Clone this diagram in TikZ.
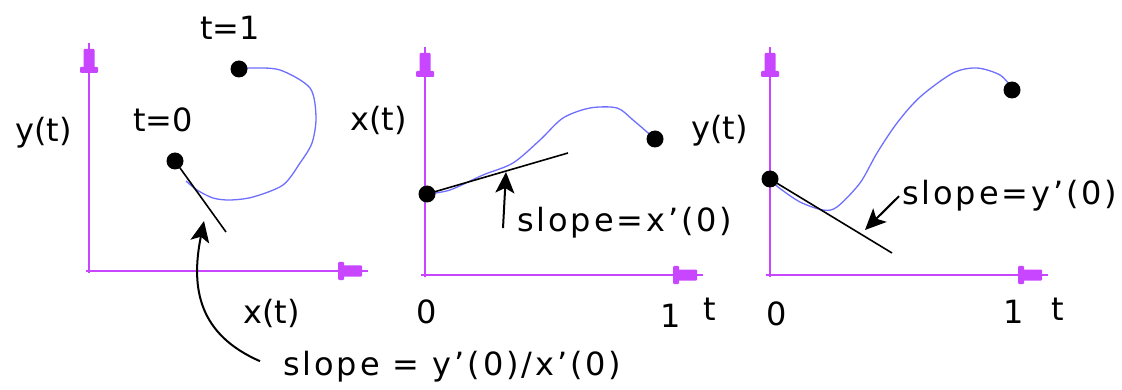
\documentclass[tikz,border=0pt]{standalone}
\usepackage{fontspec}
\newfontfamily\labfont{DejaVu Sans}
\newfontfamily\labspfont[LetterSpace=9]{DejaVu Sans}
\usetikzlibrary{arrows.meta}
\definecolor{axcol}{RGB}{200,70,255}
\definecolor{curvecol}{RGB}{110,110,255}
\tikzset{
  axisline/.style={draw=axcol, line width=2.8pt},
  axhead/.pic={\fill[axcol, rounded corners=1pt] (-25,-5.5) rectangle (-6,5.5); \fill[axcol, rounded corners=1pt] (-30,-9) rectangle (-24,9);},
  dot/.style={circle, fill=black, inner sep=0pt, minimum size=17pt},
  curve/.style={draw=curvecol, line width=1.3pt},
  tangent/.style={draw=black, line width=1.6pt},
  lab/.style={font=\labfont\fontsize{32}{38}\selectfont, inner sep=0pt, anchor=base west},
  numlab/.style={font=\labfont\fontsize{32}{38}\selectfont, inner sep=0pt, anchor=base},
  slopelab/.style={font=\labspfont\fontsize{32}{38}\selectfont, inner sep=0pt, anchor=base west},
  callout/.style={draw=black, line width=2pt, -{Stealth[length=21pt,width=19pt,inset=5pt]}},
}
\begin{document}
\begin{tikzpicture}[x=1pt,y=-1pt]
\useasboundingbox (0,0) rectangle (1122,390);
% ---------- panel 1 ----------
\draw[axisline] (89,43) -- (89,273);
\draw[axisline] (86,271) -- (368,271);
\pic[rotate=90] at (89,43) {axhead};
\pic at (368,271) {axhead};
\coordinate (a1) at (175,161);
\coordinate (b1) at (239,69);
\draw[curve] plot[smooth, tension=0.5] coordinates {(239,69)(250,68)(280,70)(310,88)(316,117)(312,143)(300,163)(283,185)(253,197)(230,200)(213,198)(197,190)(186,181)};
\coordinate (e1) at (226,232);
\draw[tangent] (a1) -- (e1);
\node[dot] (p1a) at (a1) {};
\node[dot] (p1b) at (b1) {};
\node[lab] (t0) at (133,132) {t=0};
\node[lab] (t1) at (200,40) {t=1};
\node[lab] (y1) at (15,142) {y(t)};
\node[lab] (x1) at (243,323) {x(t)};
\node[slopelab] (s1) at (283,375) {slope = y’(0)/x’(0)};
\coordinate (k1) at (204,221);
\draw[callout] (s1.west) ++(-23,-5) .. controls (200,335) and (190,290) .. (k1);
% ---------- panel 2 ----------
\draw[axisline] (425,47) -- (425,277);
\draw[axisline] (421,275) -- (703,275);
\pic[rotate=90] at (425,47) {axhead};
\pic at (703,275) {axhead};
\coordinate (a2) at (427,194);
\coordinate (b2) at (655,139);
\draw[curve] plot[smooth, tension=0.5] coordinates {(427,194)(450,190)(483,175)(513,163)(540,140)(563,118)(590,108)(617,108)(633,120)(655,139)};
\coordinate (e2) at (568,153);
\draw[tangent] (a2) -- (e2);
\node[dot] (p2a) at (a2) {};
\node[dot] (p2b) at (b2) {};
\node[lab] (x2) at (350,131) {x(t)};
\node[numlab] (z2) at (427,323) {0};
\node[numlab] (o2) at (671,327) {1};
\node[numlab] (tt2) at (710,320) {t};
\node[slopelab] (s2) at (517,232) {slope=x’(0)};
\coordinate (k2) at (506,172);
\draw[callout] (s2.west) ++(-14,5) -- (k2);
% ---------- panel 3 ----------
\draw[axisline] (770,47) -- (770,277);
\draw[axisline] (766,275) -- (1048,275);
\pic[rotate=90] at (770,47) {axhead};
\pic at (1048,275) {axhead};
\coordinate (a3) at (770,179);
\coordinate (b3) at (1012,90);
\draw[curve] plot[smooth, tension=0.5] coordinates {(770,179)(778,187)(800,202)(823,210)(837,207)(860,183)(877,153)(897,123)(920,97)(953,73)(977,68)(1000,75)(1012,88)};
\coordinate (e3) at (892,253);
\draw[tangent] (a3) -- (e3);
\node[dot] (p3a) at (a3) {};
\node[dot] (p3b) at (b3) {};
\node[lab] (y3) at (691,140) {y(t)};
\node[numlab] (z3) at (777,325) {0};
\node[numlab] (o3) at (1014,323) {1};
\node[numlab] (tt3) at (1058,320) {t};
\node[slopelab] (s3) at (902,205) {slope=y’(0)};
\coordinate (k3) at (865,230);
\draw[callout] (s3.west) ++(-3,0) -- (k3);
\end{tikzpicture}
\end{document}
